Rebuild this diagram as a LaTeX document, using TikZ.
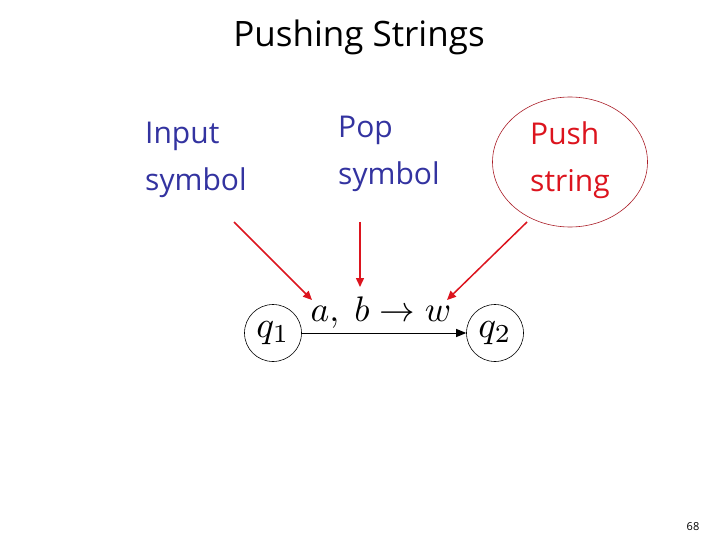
\documentclass[tikz,border=0pt]{standalone}
\usepackage{fontspec}
\setmainfont{Open Sans}
\usetikzlibrary{arrows.meta,shapes.geometric}
\definecolor{lblue}{RGB}{51,51,160}
\definecolor{lred}{RGB}{220,20,30}
\definecolor{ered}{RGB}{170,30,40}
\tikzset{
  lbl/.style={anchor=west, align=left, font=\fontsize{30}{47}\selectfont, inner sep=0pt},
  state/.style={draw, circle, minimum size=57pt, inner sep=0pt, line width=0.6pt},
  redarrow/.style={draw=lred, line width=1.5pt, -{Triangle[length=9pt,width=8pt]}}
}
\begin{document}
\begin{tikzpicture}[x=1pt,y=-1pt]
\useasboundingbox (0,0) rectangle (720,540);
\node[font=\fontsize{35}{35}\selectfont] (title) at (359,37) {Pushing Strings};
\node[lbl, text=lblue] (inp) at (145,160) {Input\\symbol};
\node[lbl, text=lblue] (pop) at (338,154) {Pop\\symbol};
\node[draw=ered, line width=0.6pt, ellipse, minimum width=155pt, minimum height=130pt] (ell) at (570,162) {};
\node[lbl, text=lred] (push) at (530,160) {Push\\string};
\node[state] (q1) at (273,333) {\scalebox{3.7}{$q_1$}};
\node[state] (q2) at (495,333) {\scalebox{3.7}{$q_2$}};
\draw[line width=1pt, -{Triangle[length=10pt,width=8pt]}] (q1) -- node[above=1pt, xshift=-3pt] (lab) {\scalebox{3.55}{$a,\ b \rightarrow w$}} (q2);
\coordinate (s1) at (234,222);
\coordinate (e1) at (312,300);
\coordinate (s2) at (360,222);
\coordinate (e2) at (360,287);
\coordinate (s3) at (527,222);
\coordinate (e3) at (447,300);
\draw[redarrow] (s1) -- (e1);
\draw[redarrow] (s2) -- (e2);
\draw[redarrow] (s3) -- (e3);
\node[font=\fontsize{11}{11}\selectfont] (pg) at (693,527) {68};
\end{tikzpicture}
\end{document}
